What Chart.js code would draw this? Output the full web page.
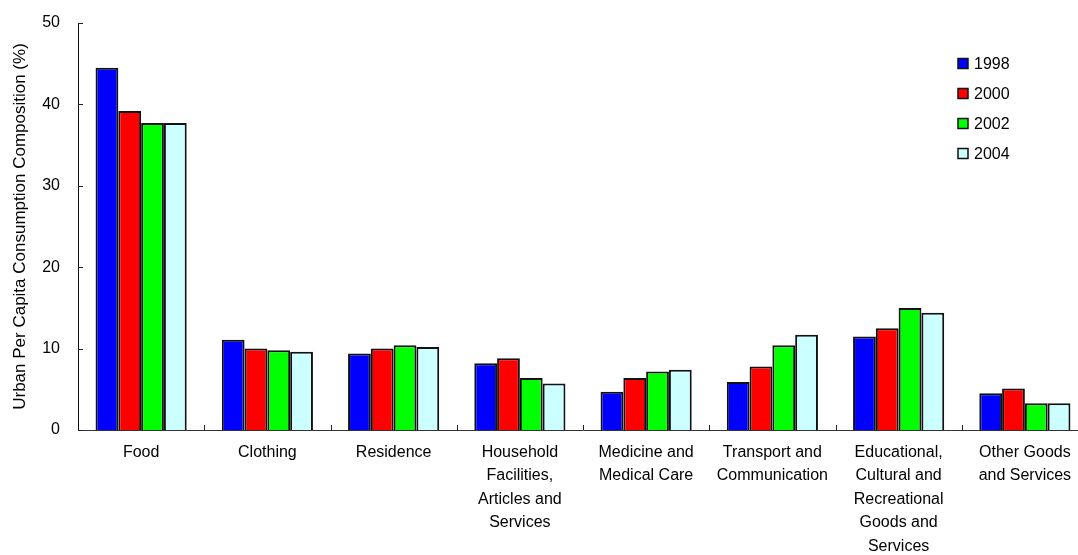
<!DOCTYPE html>
<html>
<head>
<meta charset="utf-8">
<script src="https://cdn.jsdelivr.net/npm/chart.js@4.4.0/dist/chart.umd.min.js"></script>
<style>
  html, body { margin: 0; padding: 0; background: #fff; overflow: hidden; width: 1078px; height: 555px; }
  #wrap { position: absolute; left: 0; top: 0; width: 1100px; height: 555px; }
</style>
</head>
<body>
<div id="wrap"><canvas id="c" width="1100" height="555"></canvas></div>
<script>
// Urban per capita consumption composition by category (%)
const categories = [
  ["Food"],
  ["Clothing"],
  ["Residence"],
  ["Household", "Facilities,", "Articles and", "Services"],
  ["Medicine and", "Medical Care"],
  ["Transport and", "Communication"],
  ["Educational,", "Cultural and", "Recreational", "Goods and", "Services"],
  ["Other Goods", "and Services"]
];
const years = ["1998", "2000", "2002", "2004"];
const share1998 = [44.5, 11.1, 9.4, 8.2, 4.7, 5.9, 11.5, 4.5];
const share2000 = [39.2, 10.0, 10.0, 8.8, 6.4, 7.8, 12.5, 5.1];
const share2002 = [37.7, 9.8, 10.4, 6.4, 7.2, 10.4, 15.0, 3.3];
const share2004 = [37.7, 9.6, 10.2, 5.7, 7.4, 11.7, 14.4, 3.3];
const yTicks = [0, 10, 20, 30, 40, 50];
const yTitle = "Urban Per Capita Consumption Composition (%)";

const seriesValues = [share1998, share2000, share2002, share2004];
const seriesColors = ["#0000ff", "#ff0000", "#00ff00", "#ccffff"];
const FONT = "'Liberation Sans', Arial, sans-serif";
const INK = "#000000";
const EDGE = "#111111";

// Short tick marks pointing into the plot, plus the year key at the upper right
const innerTicksAndKey = {
  id: 'innerTicksAndKey',
  afterDraw(chart) {
    const ctx = chart.ctx;
    const area = chart.chartArea;
    const xs = chart.scales.x;
    const ys = chart.scales.y;
    ctx.save();
    ctx.strokeStyle = "#222";
    ctx.lineWidth = 1;
    yTicks.forEach(v => {
      const py = Math.round(ys.getPixelForValue(v)) + 0.5;
      ctx.beginPath();
      ctx.moveTo(area.left, py);
      ctx.lineTo(area.left + 5, py);
      ctx.stroke();
    });
    const n = categories.length;
    for (let i = 0; i + 1 < n; i++) {
      const px = Math.round((xs.getPixelForValue(i) + xs.getPixelForValue(i + 1)) / 2);
      ctx.beginPath();
      ctx.moveTo(px + 0.5, area.bottom);
      ctx.lineTo(px + 0.5, area.bottom - 5);
      ctx.stroke();
    }
    // year key
    ctx.font = "16px " + FONT;
    ctx.textBaseline = "middle";
    ctx.textAlign = "left";
    chart.data.datasets.forEach((ds, i) => {
      const cy = 63.5 + i * 30;
      ctx.fillStyle = ds.backgroundColor;
      ctx.fillRect(958, cy - 5, 10, 10);
      ctx.strokeStyle = EDGE;
      ctx.lineWidth = 1.5;
      ctx.strokeRect(958, cy - 5, 10, 10);
      ctx.fillStyle = INK;
      ctx.fillText(ds.label, 974, cy + 1);
    });
    ctx.restore();
  }
};

new Chart(document.getElementById('c'), {
  type: 'bar',
  data: {
    labels: categories,
    datasets: years.map((y, i) => ({
      label: y,
      data: seriesValues[i],
      backgroundColor: seriesColors[i],
      borderColor: EDGE,
      borderWidth: 2,
      categoryPercentage: 0.722,
      barPercentage: 1.0
    }))
  },
  options: {
    responsive: false,
    animation: false,
    devicePixelRatio: 1,
    layout: { padding: { top: 23, right: 12, left: 0, bottom: 0 } },
    plugins: {
      legend: { display: false },
      tooltip: { enabled: false }
    },
    scales: {
      x: {
        offset: true,
        grid: { display: false, drawTicks: false },
        border: { display: true, color: "#333", width: 1 },
        ticks: {
          color: INK,
          font: { family: FONT, size: 16, lineHeight: 1.46 },
          padding: 11,
          maxRotation: 0,
          minRotation: 0,
          autoSkip: false
        },
        afterFit(scale) {
          scale.height = 125;
          scale.paddingLeft = 0;
          scale.paddingRight = 0;
        }
      },
      y: {
        min: 0,
        max: 50,
        grid: { display: false, drawTicks: false },
        border: { display: true, color: "#111", width: 1 },
        ticks: {
          stepSize: 10,
          color: INK,
          font: { family: FONT, size: 16 },
          padding: 18
        },
        title: {
          display: true,
          text: yTitle,
          color: INK,
          font: { family: FONT, size: 17 },
          padding: { top: 10, bottom: 0 }
        },
        afterFit(scale) {
          scale.width = 78;
          scale.paddingTop = 0;
          scale.paddingBottom = 0;
        }
      }
    }
  },
  plugins: [innerTicksAndKey]
});
</script>
</body>
</html>
